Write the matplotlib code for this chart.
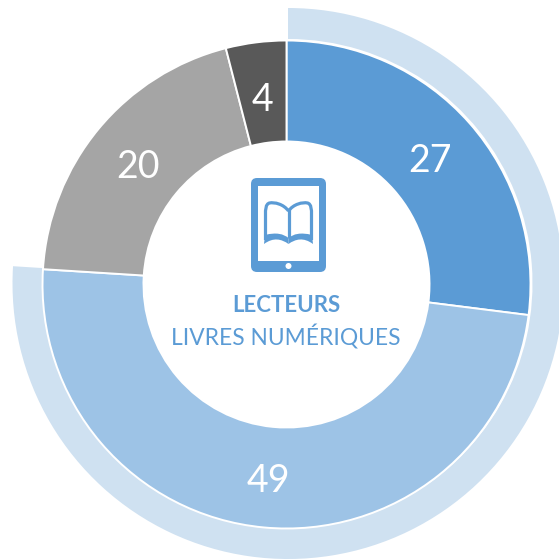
import matplotlib
matplotlib.use("Agg")
import matplotlib.pyplot as plt
from matplotlib.patches import FancyBboxPatch, Circle, PathPatch
from matplotlib.path import Path

values = [27, 49, 20, 4]
value_labels = ["27", "49", "20", "4"]
colors = ["#5B9BD5", "#9DC3E6", "#A5A5A5", "#595959"]
ring_values = [76, 24]
title_bold = "LECTEURS"
title_plain = "LIVRES NUMÉRIQUES"
BLUE = "#5B9BD5"
H = 559
plt.rcParams["font.family"] = ["Lato", "DejaVu Sans"]

fig = plt.figure(figsize=(5.59, 5.59), dpi=100, facecolor="white")
ax = fig.add_axes([0, 0, 1, 1])
cx, cy = 286.5, H - 284.5

def Y(y):
    return H - y

# outer highlight ring
w1, _ = ax.pie(ring_values, radius=275.5, center=(288, H - 283.5), startangle=90, counterclock=False,
               colors=["#CFE1F1", "none"], wedgeprops=dict(width=31, edgecolor="none"))
w1[1].set_visible(False)

# main donut
ax.pie(values, radius=244, center=(cx, cy), startangle=90, counterclock=False, colors=colors,
       wedgeprops=dict(width=101, edgecolor="white", linewidth=1.4))

# value labels
label_pos = [(430, 161), (268, 481), (138, 167), (262, 100)]
for t, (x, y) in zip(value_labels, label_pos):
    ax.text(x, Y(y), t, color="white", fontsize=27, ha="center", va="center")

# tablet icon
ax.add_patch(FancyBboxPatch((256, Y(267)), 65, 84, boxstyle="round,pad=5,rounding_size=6",
                            fc=BLUE, ec="none"))
ax.add_patch(plt.Rectangle((258, Y(261)), 61, 75, fc="white", ec="none", zorder=3))
ax.add_patch(Circle((288.5, Y(266)), 3, fc="white", ec="none", zorder=3))

# open book
def book(side):
    s = side
    c = 288.5
    verts = [(c, 211), (c - s*5, 204), (c - s*14, 202), (c - s*19, 203),
             (c - s*23, 204), (c - s*23, 210), (c - s*23, 214),
             (c - s*23, 240)]
    codes = [Path.MOVETO, Path.CURVE4, Path.CURVE4, Path.CURVE4,
             Path.CURVE4, Path.CURVE4, Path.CURVE4, Path.LINETO]
    verts = [(x, Y(y)) for x, y in verts]
    ax.add_patch(PathPatch(Path(verts, codes), fc="none", ec=BLUE, lw=2.3, zorder=4, capstyle="butt"))
    low = [(c - s*23.5, 235), (c - s*12, 232), (c - s*5, 234), (c, 238),
           (c, 244), (c - s*7, 239), (c - s*15, 237), (c - s*24.5, 244), (c - s*23.5, 235)]
    lc = [Path.MOVETO, Path.CURVE4, Path.CURVE4, Path.CURVE4, Path.LINETO,
          Path.CURVE4, Path.CURVE4, Path.CURVE4, Path.CLOSEPOLY]
    ax.add_patch(PathPatch(Path([(x, Y(y)) for x, y in low], lc), fc=BLUE, ec="none", zorder=4))
book(1); book(-1)
ax.plot([288.5, 288.5], [Y(209), Y(238)], color=BLUE, lw=2.3, zorder=4, solid_capstyle="butt")

# centre text
ax.text(286, Y(305), title_bold, color=BLUE, fontsize=16, fontweight="bold", ha="center", va="center")
ax.text(286, Y(337), title_plain, color=BLUE, fontsize=16.4, ha="center", va="center")

ax.set_xlim(0, H)
ax.set_ylim(0, H)
ax.set_aspect("equal")
ax.axis("off")
fig.savefig("out.png", dpi=100, facecolor="white")
